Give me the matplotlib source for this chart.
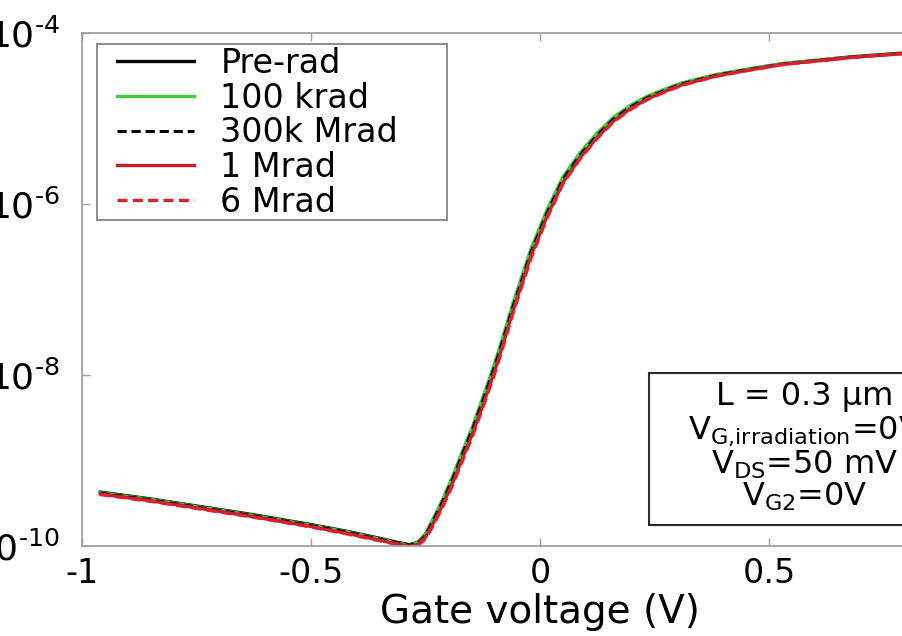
import math
import matplotlib
matplotlib.use('Agg')
import matplotlib.pyplot as plt
from matplotlib.patches import Rectangle
from matplotlib.ticker import NullLocator, FuncFormatter

# Gate voltage (V), shared by all curves
vg = [-0.96, -0.85, -0.74, -0.63, -0.50, -0.42, -0.35, -0.31, -0.285, -0.265,
      -0.25, -0.234, -0.212, -0.19, -0.168, -0.146, -0.124, -0.10, -0.08, -0.06,
      -0.02, 0.015, 0.05, 0.087, 0.124, 0.16, 0.197, 0.234, 0.27, 0.31,
      0.385, 0.46, 0.53, 0.605, 0.68, 0.78, 0.88, 1.0]

# drain current (A)
i_prerad = [4.27e-10, 3.55e-10, 2.88e-10, 2.34e-10, 1.78e-10, 1.48e-10, 1.23e-10, 1.10e-10, 1.035e-10, 1.12e-10,
            1.38e-10, 2.00e-10, 3.47e-10, 6.46e-10, 1.29e-9, 2.51e-9, 5.37e-9, 1.26e-8, 2.75e-8, 6.31e-8,
            2.82e-7, 8.13e-7, 2.00e-6, 3.80e-6, 6.46e-6, 1.00e-5, 1.38e-5, 1.78e-5, 2.14e-5, 2.57e-5,
            3.24e-5, 3.80e-5, 4.37e-5, 4.79e-5, 5.25e-5, 5.75e-5, 6.17e-5, 6.61e-5]
i_100k = [4.20e-10, 3.50e-10, 2.84e-10, 2.30e-10, 1.75e-10, 1.46e-10, 1.21e-10, 1.08e-10, 1.02e-10, 1.11e-10,
          1.38e-10, 2.02e-10, 3.55e-10, 6.65e-10, 1.33e-9, 2.60e-9, 5.60e-9, 1.32e-8, 2.90e-8, 6.65e-8,
          2.95e-7, 8.50e-7, 2.08e-6, 3.95e-6, 6.70e-6, 1.03e-5, 1.42e-5, 1.82e-5, 2.18e-5, 2.61e-5,
          3.28e-5, 3.84e-5, 4.40e-5, 4.81e-5, 5.27e-5, 5.77e-5, 6.18e-5, 6.62e-5]
i_300k = [4.15e-10, 3.46e-10, 2.81e-10, 2.28e-10, 1.74e-10, 1.45e-10, 1.20e-10, 1.08e-10, 1.02e-10, 1.09e-10,
          1.33e-10, 1.93e-10, 3.35e-10, 6.20e-10, 1.24e-9, 2.42e-9, 5.15e-9, 1.21e-8, 2.65e-8, 6.05e-8,
          2.70e-7, 7.80e-7, 1.94e-6, 3.70e-6, 6.30e-6, 9.80e-6, 1.36e-5, 1.75e-5, 2.11e-5, 2.54e-5,
          3.21e-5, 3.78e-5, 4.34e-5, 4.77e-5, 5.23e-5, 5.73e-5, 6.15e-5, 6.59e-5]
i_1M = [4.05e-10, 3.38e-10, 2.74e-10, 2.22e-10, 1.69e-10, 1.40e-10, 1.17e-10, 1.05e-10, 0.99e-10, 1.05e-10,
        1.27e-10, 1.80e-10, 3.05e-10, 5.60e-10, 1.10e-9, 2.15e-9, 4.55e-9, 1.07e-8, 2.35e-8, 5.40e-8,
        2.45e-7, 7.10e-7, 1.78e-6, 3.45e-6, 5.95e-6, 9.30e-6, 1.30e-5, 1.69e-5, 2.05e-5, 2.48e-5,
        3.15e-5, 3.72e-5, 4.30e-5, 4.72e-5, 5.18e-5, 5.70e-5, 6.12e-5, 6.56e-5]
i_6M = [4.00e-10, 3.33e-10, 2.70e-10, 2.19e-10, 1.67e-10, 1.38e-10, 1.15e-10, 1.04e-10, 0.98e-10, 1.03e-10,
        1.22e-10, 1.70e-10, 2.90e-10, 5.30e-10, 1.04e-9, 2.02e-9, 4.30e-9, 1.00e-8, 2.20e-8, 5.10e-8,
        2.30e-7, 6.80e-7, 1.72e-6, 3.35e-6, 5.80e-6, 9.10e-6, 1.27e-5, 1.66e-5, 2.02e-5, 2.45e-5,
        3.12e-5, 3.70e-5, 4.28e-5, 4.70e-5, 5.16e-5, 5.68e-5, 6.10e-5, 6.55e-5]

labels = ['Pre-rad', '100 krad', '300k Mrad', '1 Mrad', '6 Mrad']
x_ticks = [-1, -0.5, 0, 0.5]
x_ticklabels = ['-1', '-0.5', '0', '0.5']
y_ticks = [1e-10, 1e-8, 1e-6, 1e-4]
info_lines = ['L = 0.3 \u00b5m',
              r'$\mathregular{V_{G{,}irradiation}}$=0V',
              r'$\mathregular{V_{DS}}$=50 mV',
              r'$\mathregular{V_{G2}}$=0V']


def pow10_label(v, pos):
    # 10^-n with a plain hyphen like the original
    e = -int(round(math.log10(v)))
    return '$\\mathregular{10^{\u2010' + str(e) + '}}$'


plt.rcParams['font.family'] = ['DejaVu Sans']
plt.rcParams['mathtext.default'] = 'regular'

fig = plt.figure(figsize=(9.02, 6.36), dpi=100)
# the original picture is cropped: axes runs past the left/right edges
ax = fig.add_axes([82 / 902, 90 / 636, 916 / 902, 513 / 636])

ax.plot(vg, i_prerad, color='black', lw=2.4, label=labels[0])
ax.plot(vg, i_100k, color='#3ccf3c', lw=2.4, label=labels[1])
ax.plot(vg, i_300k, color='black', lw=2.2, ls=(0, (3, 1.6)), label=labels[2])
ax.plot(vg, i_1M, color='#c01f2c', lw=2.4, label=labels[3])
ax.plot(vg, i_6M, color='#e0202e', lw=2.4, ls=(0, (3, 1.6)), label=labels[4])

ax.set_yscale('log')
ax.set_xlim(-1, 1)
ax.set_ylim(1e-10, 1e-4)
ax.set_xticks(x_ticks)
ax.set_xticklabels(x_ticklabels)
ax.set_yticks(y_ticks)
ax.yaxis.set_major_formatter(FuncFormatter(pow10_label))
ax.yaxis.set_minor_locator(NullLocator())

for sp in ax.spines.values():
    sp.set_color('#a0a0a0')
    sp.set_linewidth(1.3)
ax.tick_params(which='both', direction='in', top=True, right=True,
               length=6, width=1, color='#a0a0a0', labelsize=24)
ax.tick_params(axis='x', pad=8)
ax.tick_params(axis='y', pad=16, labelsize=26)
ax.set_xlabel('Gate voltage (V)', fontsize=28, labelpad=2)

# legend frame drawn by hand so the side padding can be wider than the top one
ax.add_patch(Rectangle((97 / 902, 1 - 220 / 636), 350 / 902, 176 / 636,
                       transform=fig.transFigure, facecolor='white',
                       edgecolor='#8c8c8c', lw=1.4, zorder=4, clip_on=False))
leg = ax.legend(loc='upper left', bbox_to_anchor=(117 / 902, 1 - 47 / 636),
                bbox_transform=fig.transFigure, borderaxespad=0, frameon=False,
                fontsize=24, labelspacing=0.05, handlelength=2.3,
                handletextpad=0.8, borderpad=0)
leg.set_zorder(5)

# parameter box on the right (also cut by the crop)
fig.patches.append(Rectangle((649 / 902, 111 / 636), 0.4, 152 / 636,
                             transform=fig.transFigure, facecolor='white',
                             edgecolor='#2a2a2a', lw=1.5))
for txt, ypix in zip(info_lines, [397, 431, 465, 497]):
    fig.text(805 / 902, 1 - ypix / 636, txt, ha='center', va='center', fontsize=23)

fig.savefig('out.png', dpi=100)
